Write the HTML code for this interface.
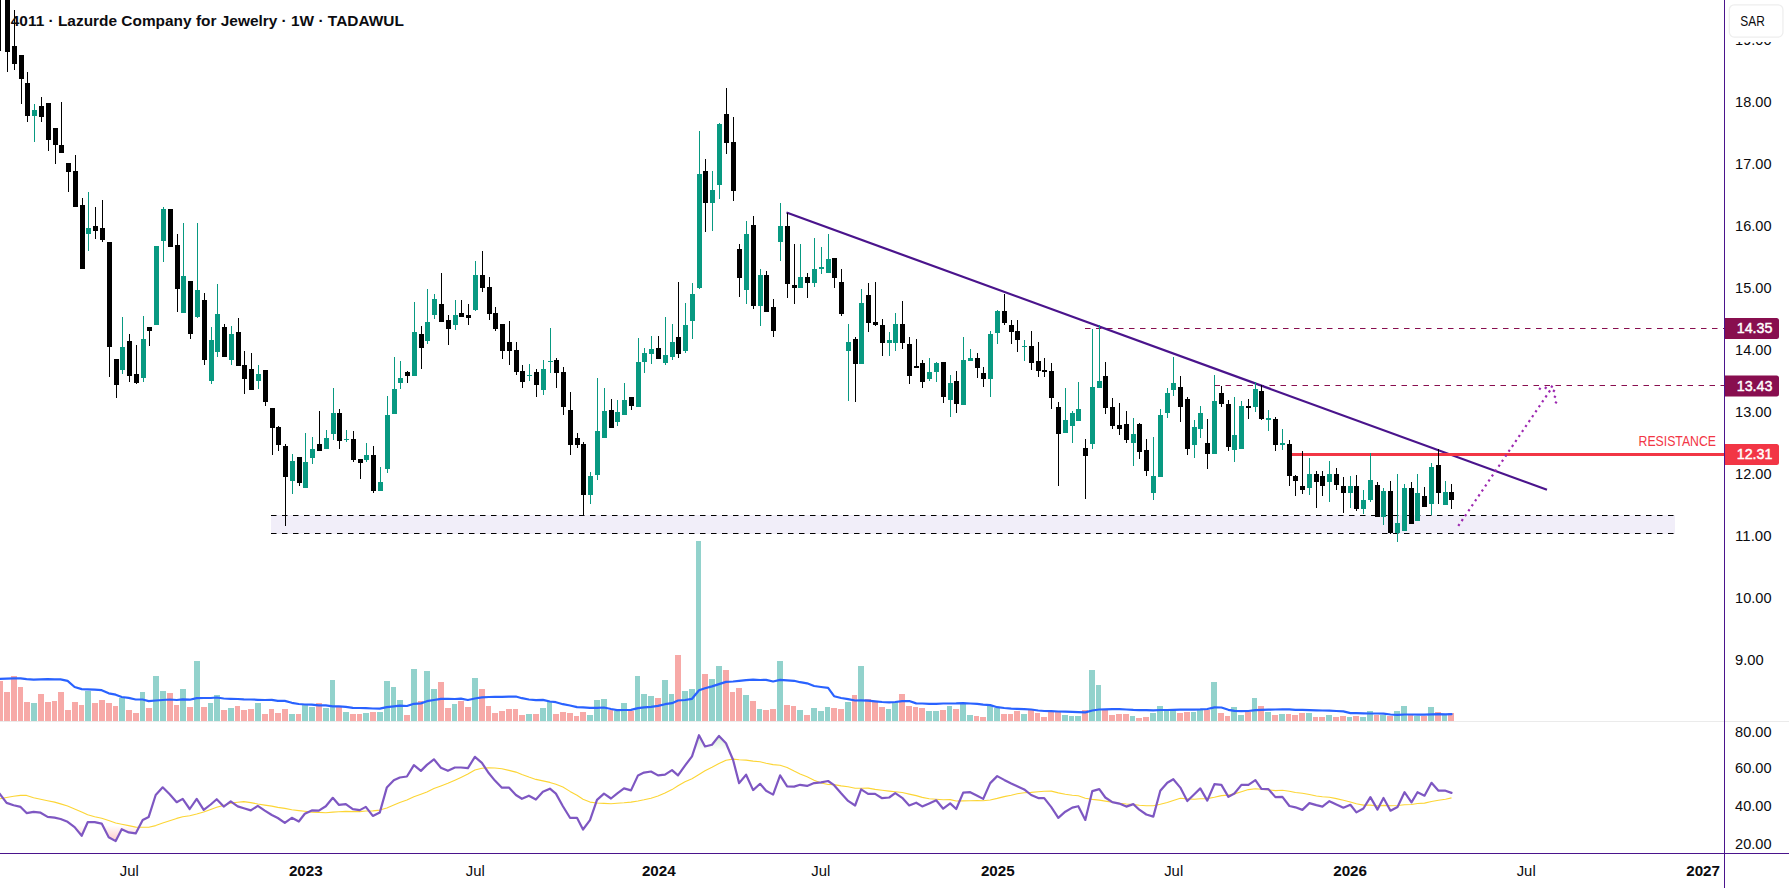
<!DOCTYPE html>
<html lang="en"><head><meta charset="utf-8"><title>4011 Lazurde Company for Jewelry 1W TADAWUL</title>
<style>
html,body{margin:0;padding:0;background:#fff;}
body{width:1789px;height:888px;overflow:hidden;position:relative;}
svg{position:absolute;left:0;top:0;display:block;}
text{font-family:"Liberation Sans",Arial,sans-serif;}
.ax{font-size:14.3px;fill:#0b0b0e;}
.axb{font-size:14.3px;fill:#0b0b0e;font-weight:700;}
.lb{font-size:14.3px;fill:#ffffff;stroke:#ffffff;stroke-width:0.45px;}
</style></head><body>
<svg width="1789" height="888" viewBox="0 0 1789 888">
<defs>
<linearGradient id="gOS" x1="0" y1="825.4" x2="0" y2="853" gradientUnits="userSpaceOnUse"><stop offset="0" stop-color="#ff5252" stop-opacity="0"/><stop offset="1" stop-color="#ff5252" stop-opacity="0.55"/></linearGradient>
<linearGradient id="gOB" x1="0" y1="722" x2="0" y2="750.3" gradientUnits="userSpaceOnUse"><stop offset="0" stop-color="#4caf50" stop-opacity="0.45"/><stop offset="1" stop-color="#4caf50" stop-opacity="0"/></linearGradient>
<clipPath id="cOS"><rect x="0" y="825.4" width="1724" height="28"/></clipPath>
<clipPath id="cOB"><rect x="0" y="722" width="1724" height="28.3"/></clipPath>
<clipPath id="cMain"><rect x="0" y="0" width="1724" height="853"/></clipPath>
</defs>
<rect x="0" y="0" width="1789" height="888" fill="#ffffff"/>
<g shape-rendering="crispEdges">
<path d="M31 703h6V721h-6zM85 691h6V721h-6zM119 698h6V721h-6zM140 692h5V721h-5zM153 676h6V721h-6zM160 691h6V721h-6zM180 689h6V721h-6zM194 661h6V721h-6zM208 703h5V721h-5zM214 695h6V721h-6zM228 708h6V721h-6zM255 703h6V721h-6zM289 714h6V721h-6zM302 705h6V721h-6zM309 707h6V721h-6zM323 708h6V721h-6zM330 680h5V721h-5zM343 712h6V721h-6zM363 713h6V721h-6zM377 712h6V721h-6zM384 681h6V721h-6zM391 687h5V721h-5zM397 700h6V721h-6zM411 669h6V721h-6zM424 671h6V721h-6zM431 689h6V721h-6zM452 704h5V721h-5zM472 678h6V721h-6zM526 714h6V721h-6zM540 708h6V721h-6zM547 702h5V721h-5zM587 715h6V721h-6zM594 700h6V721h-6zM601 699h6V721h-6zM614 711h6V721h-6zM621 703h6V721h-6zM635 676h5V721h-5zM641 694h6V721h-6zM648 696h6V721h-6zM662 680h6V721h-6zM669 694h5V721h-5zM682 691h6V721h-6zM689 689h6V721h-6zM696 541h5V721h-5zM709 679h6V721h-6zM716 666h6V721h-6zM743 695h6V721h-6zM757 709h5V721h-5zM777 661h6V721h-6zM797 710h6V721h-6zM811 708h6V721h-6zM818 711h6V721h-6zM825 707h5V721h-5zM845 702h6V721h-6zM858 666h6V721h-6zM886 709h5V721h-5zM892 702h6V721h-6zM926 711h6V721h-6zM933 711h6V721h-6zM947 706h5V721h-5zM960 703h6V721h-6zM967 715h6V721h-6zM987 706h6V721h-6zM994 708h6V721h-6zM1021 714h6V721h-6zM1062 715h6V721h-6zM1069 716h5V721h-5zM1075 716h6V721h-6zM1089 670h6V721h-6zM1096 685h5V721h-5zM1130 716h5V721h-5zM1150 713h6V721h-6zM1157 706h6V721h-6zM1164 711h5V721h-5zM1170 709h6V721h-6zM1191 712h5V721h-5zM1197 710h6V721h-6zM1211 682h6V721h-6zM1231 707h6V721h-6zM1238 715h6V721h-6zM1252 698h5V721h-5zM1265 712h6V721h-6zM1279 714h6V721h-6zM1306 713h6V721h-6zM1326 715h6V721h-6zM1347 717h5V721h-5zM1360 717h6V721h-6zM1367 711h6V721h-6zM1380 715h6V721h-6zM1394 711h6V721h-6zM1401 706h6V721h-6zM1414 716h6V721h-6zM1428 707h6V721h-6zM1442 715h5V721h-5z" fill="#92d2cc"/>
<path d="M-3 681h6V721h-6zM4 692h6V721h-6zM11 676h6V721h-6zM18 687h5V721h-5zM24 702h6V721h-6zM38 694h6V721h-6zM45 702h6V721h-6zM52 701h5V721h-5zM58 692h6V721h-6zM65 710h6V721h-6zM72 702h6V721h-6zM79 705h5V721h-5zM92 703h6V721h-6zM99 700h6V721h-6zM106 703h6V721h-6zM113 706h5V721h-5zM126 710h6V721h-6zM133 713h6V721h-6zM146 708h6V721h-6zM167 693h6V721h-6zM174 705h5V721h-5zM187 707h6V721h-6zM201 707h6V721h-6zM221 710h6V721h-6zM235 706h5V721h-5zM241 710h6V721h-6zM248 709h6V721h-6zM262 714h6V721h-6zM269 709h5V721h-5zM275 713h6V721h-6zM282 709h6V721h-6zM296 714h5V721h-5zM316 703h6V721h-6zM336 707h6V721h-6zM350 714h6V721h-6zM357 714h5V721h-5zM370 712h6V721h-6zM404 715h6V721h-6zM418 701h5V721h-5zM438 682h6V721h-6zM445 708h6V721h-6zM458 701h6V721h-6zM465 707h6V721h-6zM479 689h6V721h-6zM486 706h5V721h-5zM492 713h6V721h-6zM499 711h6V721h-6zM506 709h6V721h-6zM513 709h5V721h-5zM519 715h6V721h-6zM533 714h6V721h-6zM553 714h6V721h-6zM560 712h6V721h-6zM567 713h6V721h-6zM574 716h5V721h-5zM580 712h6V721h-6zM608 710h5V721h-5zM628 711h6V721h-6zM655 698h6V721h-6zM675 655h6V721h-6zM702 674h6V721h-6zM723 670h6V721h-6zM730 692h5V721h-5zM736 688h6V721h-6zM750 701h6V721h-6zM763 710h6V721h-6zM770 709h6V721h-6zM784 705h6V721h-6zM791 706h5V721h-5zM804 715h6V721h-6zM831 708h6V721h-6zM838 709h6V721h-6zM852 695h5V721h-5zM865 699h6V721h-6zM872 701h6V721h-6zM879 707h6V721h-6zM899 694h6V721h-6zM906 706h6V721h-6zM913 707h5V721h-5zM919 708h6V721h-6zM940 710h6V721h-6zM953 709h6V721h-6zM974 716h5V721h-5zM980 717h6V721h-6zM1001 714h6V721h-6zM1008 714h5V721h-5zM1014 711h6V721h-6zM1028 710h6V721h-6zM1035 713h5V721h-5zM1041 717h6V721h-6zM1048 712h6V721h-6zM1055 712h6V721h-6zM1082 710h6V721h-6zM1102 710h6V721h-6zM1109 715h6V721h-6zM1116 714h6V721h-6zM1123 714h6V721h-6zM1136 718h6V721h-6zM1143 717h6V721h-6zM1177 713h6V721h-6zM1184 712h6V721h-6zM1204 710h6V721h-6zM1218 713h6V721h-6zM1225 716h5V721h-5zM1245 712h6V721h-6zM1258 706h6V721h-6zM1272 715h6V721h-6zM1286 714h5V721h-5zM1292 715h6V721h-6zM1299 713h6V721h-6zM1313 717h5V721h-5zM1319 717h6V721h-6zM1333 717h6V721h-6zM1340 716h6V721h-6zM1353 716h6V721h-6zM1374 715h5V721h-5zM1387 716h6V721h-6zM1408 715h5V721h-5zM1421 716h6V721h-6zM1435 712h6V721h-6zM1448 713h6V721h-6z" fill="#f7a9a7"/>
</g>
<polyline points="-0.4,678.9 6.6,678.6 13.6,678.4 20.6,678.4 26.6,679.2 33.6,679.6 40.6,679.3 47.6,679.2 54.6,679.3 60.6,679.4 67.6,680.9 74.6,687.0 81.7,689.1 87.7,689.4 94.7,689.6 101.7,690.2 108.7,693.3 115.7,694.7 121.7,697.0 128.7,697.9 135.7,699.5 142.7,699.5 148.7,701.1 155.7,700.5 162.7,700.0 169.7,699.5 176.7,700.0 182.7,699.4 189.7,699.7 196.7,698.1 203.7,698.0 210.7,698.0 216.7,697.5 223.7,698.5 230.7,698.8 237.7,699.0 243.8,699.4 250.8,699.5 257.8,699.8 264.8,700.0 271.8,699.8 277.8,700.9 284.8,700.9 291.8,702.8 298.8,704.0 304.8,704.5 311.8,704.6 318.8,705.4 325.8,705.4 332.8,706.4 338.8,706.4 345.8,706.8 352.8,707.8 359.8,708.0 365.8,708.2 372.8,708.5 379.8,708.6 386.8,707.2 393.8,706.4 399.8,705.7 406.9,706.0 413.9,703.8 420.9,703.4 426.9,701.2 433.9,700.0 440.9,698.9 447.9,698.9 454.9,699.0 460.9,698.6 467.9,700.0 474.9,698.5 481.9,697.4 488.9,697.0 494.9,696.9 501.9,696.8 508.9,696.6 515.9,696.5 521.9,698.2 528.9,699.5 535.9,700.2 542.9,699.9 549.9,701.5 555.9,702.2 562.9,704.2 570.0,705.5 577.0,707.1 583.0,707.4 590.0,707.9 597.0,707.9 604.0,707.5 611.0,709.0 617.0,710.1 624.0,710.0 631.0,709.9 638.0,708.1 644.0,707.4 651.0,706.8 658.0,705.9 665.0,704.2 672.0,703.2 678.0,700.5 685.0,700.0 692.0,698.8 699.0,690.2 705.0,688.2 712.0,686.4 719.0,684.1 726.0,681.9 733.1,681.5 739.1,680.9 746.1,680.1 753.1,679.6 760.1,680.0 766.1,679.9 773.1,681.5 780.1,679.9 787.1,680.4 794.1,680.8 800.1,682.2 807.1,683.3 814.1,686.0 821.1,687.0 828.1,687.9 834.1,696.2 841.1,698.0 848.1,699.1 855.1,700.5 861.1,700.4 868.1,700.7 875.1,701.4 882.1,702.0 889.2,702.4 895.2,702.0 902.2,701.2 909.2,701.0 916.2,703.4 922.2,703.5 929.2,703.8 936.2,703.8 943.2,703.5 950.2,703.5 956.2,703.4 963.2,703.1 970.2,703.5 977.2,703.9 983.2,704.6 990.2,705.1 997.2,707.2 1004.2,708.0 1011.2,708.6 1017.2,708.9 1024.2,709.1 1031.2,709.5 1038.2,710.5 1044.2,711.0 1051.3,711.2 1058.3,711.5 1065.3,711.6 1072.3,711.9 1078.3,712.2 1085.3,712.4 1092.3,710.5 1099.3,709.5 1105.3,709.3 1112.3,709.2 1119.3,709.1 1126.3,709.5 1133.3,709.9 1139.3,710.1 1146.3,710.2 1153.3,710.4 1160.3,710.0 1167.3,710.0 1173.3,709.8 1180.3,709.6 1187.3,709.6 1194.3,709.6 1200.3,709.4 1207.3,709.0 1214.4,707.4 1221.4,707.5 1228.4,709.8 1234.4,710.9 1241.4,711.1 1248.4,711.0 1255.4,710.2 1261.4,709.8 1268.4,709.6 1275.4,709.5 1282.4,709.3 1289.4,709.4 1295.4,709.8 1302.4,709.9 1309.4,710.1 1316.4,710.3 1322.4,710.5 1329.4,710.7 1336.4,711.0 1343.4,711.4 1350.4,713.1 1356.4,713.2 1363.4,713.3 1370.4,713.5 1377.5,713.5 1383.5,713.6 1390.5,714.5 1397.5,714.8 1404.5,714.5 1411.5,714.5 1417.5,714.6 1424.5,714.7 1431.5,714.3 1438.5,714.2 1445.5,714.4 1451.5,714.1" fill="none" stroke="#2962ff" stroke-width="2.2" stroke-linejoin="round" stroke-linecap="round"/>
<rect x="271" y="515" width="1404" height="19" fill="#f1eef9"/>
<g stroke="#000000" stroke-width="1" stroke-dasharray="5.5 5.5" fill="none">
<line x1="271" y1="515.5" x2="1675" y2="515.5"/>
<line x1="271" y1="533.5" x2="1675" y2="533.5"/>
</g>
<g stroke="#880e4f" stroke-width="1" stroke-dasharray="5.5 5.5" fill="none">
<line x1="1085" y1="328.5" x2="1724" y2="328.5"/>
<line x1="1214.5" y1="385.5" x2="1724" y2="385.5"/>
</g>
<line x1="786.5" y1="212.5" x2="1547" y2="489.8" stroke="#4a148c" stroke-width="2.2"/>
<rect x="1292" y="453" width="432" height="3" fill="#f23645" shape-rendering="crispEdges"/>
<g stroke="#9c27b0" stroke-width="2.2" fill="none" stroke-dasharray="2.2 3.8">
<line x1="1550.06" y1="390.49" x2="1458.2" y2="526.1" stroke-dasharray="2.2 3.78"/>
</g>
<g fill="#9c27b0">
<rect x="1550.7" y="385.5" width="2.2" height="2.2" transform="rotate(-56 1551.8 386.6)"/>
<rect x="1544.6" y="386.8" width="2.2" height="2.2" transform="rotate(-56 1545.7 387.9)"/>
<rect x="1538.8" y="387.6" width="2.2" height="2.2" transform="rotate(-56 1539.9 388.75)"/>
<rect x="1552.8" y="389.8" width="2.2" height="2.2" transform="rotate(-56 1553.9 390.9)"/>
<rect x="1553.8" y="395.6" width="2.2" height="2.2" transform="rotate(-56 1554.9 396.7)"/>
<rect x="1554.9" y="401.4" width="2.2" height="2.2" transform="rotate(-56 1556.0 402.5)"/>
</g>
<text x="1638.6" y="445.6" font-size="14.3" fill="#f23645" textLength="77.4" lengthAdjust="spacingAndGlyphs">RESISTANCE</text>
<g shape-rendering="crispEdges">
<path d="M0 -5h1V51h-1zM-2 -5h5V-4h-5zM7 -5h1V72h-1zM5 -5h5V52h-5zM14 10h1V70h-1zM12 46h5V64h-5zM21 55h1V104h-1zM19 55h5V79h-5zM27 72h1V122h-1zM25 83h5V116h-5zM41 97h1V122h-1zM39 106h5V117h-5zM48 103h1V151h-1zM46 103h5V140h-5zM55 128h1V164h-1zM53 128h5V145h-5zM61 102h1V153h-1zM59 145h5V153h-5zM68 163h1V192h-1zM66 163h5V172h-5zM75 155h1V207h-1zM73 171h5V207h-5zM82 198h1V269h-1zM80 205h5V269h-5zM95 207h1V239h-1zM93 226h5V231h-5zM102 200h1V242h-1zM100 228h5V240h-5zM109 242h1V377h-1zM107 242h5V347h-5zM116 359h1V398h-1zM114 359h5V385h-5zM129 334h1V382h-1zM127 341h5V376h-5zM136 345h1V384h-1zM134 374h5V383h-5zM149 327h1V346h-1zM147 327h5V331h-5zM170 209h1V247h-1zM168 209h5V247h-5zM177 234h1V312h-1zM175 245h5V289h-5zM190 281h1V339h-1zM188 281h5V334h-5zM204 293h1V365h-1zM202 300h5V360h-5zM224 324h1V357h-1zM222 327h5V357h-5zM238 318h1V366h-1zM236 332h5V366h-5zM244 351h1V394h-1zM242 365h5V379h-5zM251 353h1V390h-1zM249 369h5V390h-5zM265 370h1V406h-1zM263 370h5V402h-5zM272 408h1V455h-1zM270 408h5V428h-5zM278 426h1V451h-1zM276 427h5V445h-5zM285 444h1V526h-1zM283 446h5V477h-5zM299 457h1V486h-1zM297 457h5V483h-5zM319 411h1V451h-1zM317 444h5V451h-5zM339 409h1V449h-1zM337 413h5V441h-5zM353 431h1V462h-1zM351 439h5V460h-5zM360 459h1V479h-1zM358 459h5V463h-5zM373 446h1V493h-1zM371 455h5V491h-5zM407 371h1V383h-1zM405 372h5V376h-5zM421 326h1V369h-1zM419 334h5V348h-5zM441 273h1V322h-1zM439 304h5V322h-5zM448 315h1V345h-1zM446 320h5V329h-5zM461 300h1V317h-1zM459 313h5V317h-5zM468 304h1V325h-1zM466 315h5V318h-5zM482 251h1V292h-1zM480 275h5V288h-5zM489 277h1V320h-1zM487 287h5V314h-5zM495 307h1V331h-1zM493 313h5V329h-5zM502 324h1V359h-1zM500 324h5V351h-5zM509 321h1V365h-1zM507 342h5V351h-5zM516 342h1V375h-1zM514 350h5V372h-5zM522 365h1V388h-1zM520 371h5V382h-5zM536 369h1V397h-1zM534 372h5V385h-5zM556 358h1V388h-1zM554 360h5V373h-5zM563 367h1V415h-1zM561 372h5V407h-5zM570 392h1V455h-1zM568 410h5V445h-5zM577 433h1V448h-1zM575 438h5V445h-5zM583 442h1V515h-1zM581 444h5V495h-5zM611 399h1V428h-1zM609 410h5V428h-5zM631 397h1V410h-1zM629 397h5V406h-5zM658 336h1V359h-1zM656 348h5V359h-5zM678 282h1V358h-1zM676 337h5V354h-5zM705 159h1V232h-1zM703 171h5V203h-5zM726 88h1V154h-1zM724 114h5V143h-5zM733 117h1V201h-1zM731 142h5V191h-5zM739 244h1V297h-1zM737 249h5V278h-5zM753 216h1V309h-1zM751 225h5V306h-5zM766 271h1V312h-1zM764 275h5V312h-5zM773 299h1V337h-1zM771 307h5V331h-5zM787 213h1V298h-1zM785 226h5V284h-5zM794 244h1V304h-1zM792 285h5V288h-5zM807 273h1V298h-1zM805 277h5V283h-5zM834 258h1V288h-1zM832 258h5V278h-5zM841 269h1V316h-1zM839 282h5V314h-5zM855 337h1V402h-1zM853 339h5V364h-5zM868 283h1V332h-1zM866 295h5V323h-5zM875 282h1V326h-1zM873 322h5V325h-5zM882 319h1V356h-1zM880 325h5V343h-5zM902 301h1V349h-1zM900 324h5V343h-5zM909 337h1V384h-1zM907 344h5V376h-5zM916 339h1V368h-1zM914 366h5V368h-5zM922 360h1V388h-1zM920 363h5V382h-5zM943 362h1V403h-1zM941 362h5V397h-5zM956 371h1V413h-1zM954 381h5V404h-5zM977 353h1V378h-1zM975 358h5V368h-5zM983 367h1V387h-1zM981 373h5V379h-5zM1004 294h1V325h-1zM1002 311h5V323h-5zM1011 320h1V344h-1zM1009 325h5V332h-5zM1017 320h1V352h-1zM1015 331h5V340h-5zM1031 331h1V370h-1zM1029 346h5V363h-5zM1038 342h1V377h-1zM1036 361h5V371h-5zM1044 358h1V377h-1zM1042 370h5V372h-5zM1051 363h1V409h-1zM1049 371h5V398h-5zM1058 402h1V486h-1zM1056 407h5V434h-5zM1085 439h1V499h-1zM1083 448h5V456h-5zM1105 362h1V414h-1zM1103 376h5V408h-5zM1112 398h1V429h-1zM1110 407h5V426h-5zM1119 403h1V435h-1zM1117 425h5V429h-5zM1126 411h1V443h-1zM1124 424h5V440h-5zM1139 423h1V459h-1zM1137 424h5V452h-5zM1146 439h1V476h-1zM1144 450h5V471h-5zM1180 376h1V422h-1zM1178 387h5V407h-5zM1187 397h1V455h-1zM1185 399h5V449h-5zM1207 419h1V469h-1zM1205 443h5V454h-5zM1221 386h1V407h-1zM1219 393h5V404h-5zM1228 400h1V451h-1zM1226 404h5V447h-5zM1248 399h1V419h-1zM1246 406h5V408h-5zM1261 385h1V420h-1zM1259 391h5V419h-5zM1275 417h1V451h-1zM1273 419h5V445h-5zM1289 440h1V486h-1zM1287 444h5V476h-5zM1295 475h1V496h-1zM1293 476h5V481h-5zM1302 451h1V494h-1zM1300 486h5V490h-5zM1316 471h1V508h-1zM1314 474h5V482h-5zM1322 471h1V496h-1zM1320 476h5V486h-5zM1336 468h1V490h-1zM1334 474h5V485h-5zM1343 477h1V513h-1zM1341 486h5V493h-5zM1356 475h1V511h-1zM1354 486h5V509h-5zM1377 482h1V517h-1zM1375 485h5V517h-5zM1390 481h1V534h-1zM1388 491h5V533h-5zM1411 482h1V524h-1zM1409 488h5V524h-5zM1424 487h1V507h-1zM1422 496h5V507h-5zM1438 449h1V504h-1zM1436 465h5V493h-5zM1451 484h1V509h-1zM1449 492h5V500h-5z" fill="#000000"/>
<path d="M34 104h1V142h-1zM32 110h5V116h-5zM88 192h1V251h-1zM86 228h5V234h-5zM122 317h1V374h-1zM120 347h5V370h-5zM143 316h1V382h-1zM141 339h5V378h-5zM156 246h1V325h-1zM154 246h5V325h-5zM163 207h1V262h-1zM161 209h5V241h-5zM183 223h1V313h-1zM181 276h5V313h-5zM197 223h1V318h-1zM195 290h5V317h-5zM211 327h1V384h-1zM209 340h5V381h-5zM217 284h1V357h-1zM215 314h5V352h-5zM231 326h1V365h-1zM229 334h5V360h-5zM258 365h1V389h-1zM256 374h5V381h-5zM292 454h1V494h-1zM290 461h5V481h-5zM305 433h1V488h-1zM303 462h5V488h-5zM312 437h1V464h-1zM310 449h5V458h-5zM326 430h1V449h-1zM324 438h5V449h-5zM333 388h1V440h-1zM331 413h5V434h-5zM346 430h1V442h-1zM344 439h5V440h-5zM366 443h1V462h-1zM364 455h5V460h-5zM380 467h1V491h-1zM378 482h5V491h-5zM387 396h1V473h-1zM385 415h5V469h-5zM394 357h1V414h-1zM392 389h5V414h-5zM400 361h1V389h-1zM398 378h5V383h-5zM414 302h1V376h-1zM412 332h5V376h-5zM427 289h1V344h-1zM425 322h5V341h-5zM434 294h1V319h-1zM432 299h5V315h-5zM455 300h1V330h-1zM453 315h5V325h-5zM475 261h1V311h-1zM473 275h5V310h-5zM529 364h1V381h-1zM527 375h5V376h-5zM543 360h1V395h-1zM541 369h5V390h-5zM550 328h1V373h-1zM548 361h5V362h-5zM590 472h1V504h-1zM588 476h5V495h-5zM597 378h1V480h-1zM595 431h5V475h-5zM604 388h1V438h-1zM602 411h5V438h-5zM617 400h1V426h-1zM615 412h5V422h-5zM624 383h1V415h-1zM622 400h5V415h-5zM638 338h1V407h-1zM636 362h5V407h-5zM644 348h1V373h-1zM642 353h5V362h-5zM651 336h1V364h-1zM649 349h5V354h-5zM665 317h1V365h-1zM663 355h5V363h-5zM672 324h1V360h-1zM670 342h5V357h-5zM685 303h1V353h-1zM683 325h5V351h-5zM692 283h1V339h-1zM690 294h5V321h-5zM699 131h1V289h-1zM697 174h5V288h-5zM712 171h1V231h-1zM710 190h5V203h-5zM719 123h1V199h-1zM717 124h5V185h-5zM746 221h1V304h-1zM744 234h5V290h-5zM760 269h1V326h-1zM758 275h5V306h-5zM780 203h1V261h-1zM778 226h5V242h-5zM800 244h1V288h-1zM798 277h5V288h-5zM814 238h1V287h-1zM812 269h5V283h-5zM821 247h1V274h-1zM819 267h5V269h-5zM828 234h1V273h-1zM826 259h5V273h-5zM848 324h1V401h-1zM846 342h5V351h-5zM861 289h1V364h-1zM859 303h5V364h-5zM889 332h1V356h-1zM887 340h5V343h-5zM895 313h1V351h-1zM893 324h5V343h-5zM929 358h1V381h-1zM927 372h5V379h-5zM936 362h1V382h-1zM934 363h5V372h-5zM950 375h1V417h-1zM948 383h5V400h-5zM963 337h1V405h-1zM961 360h5V405h-5zM970 349h1V361h-1zM968 358h5V361h-5zM990 331h1V397h-1zM988 334h5V379h-5zM997 310h1V344h-1zM995 311h5V333h-5zM1024 340h1V361h-1zM1022 346h5V347h-5zM1065 388h1V433h-1zM1063 420h5V433h-5zM1072 411h1V443h-1zM1070 413h5V426h-5zM1078 382h1V421h-1zM1076 409h5V421h-5zM1092 329h1V449h-1zM1090 387h5V444h-5zM1099 325h1V388h-1zM1097 381h5V388h-5zM1133 418h1V466h-1zM1131 434h5V443h-5zM1153 437h1V500h-1zM1151 476h5V493h-5zM1160 409h1V477h-1zM1158 415h5V477h-5zM1167 388h1V418h-1zM1165 393h5V413h-5zM1173 357h1V396h-1zM1171 383h5V390h-5zM1194 420h1V458h-1zM1192 427h5V445h-5zM1200 406h1V438h-1zM1198 413h5V429h-5zM1214 375h1V454h-1zM1212 401h5V454h-5zM1234 397h1V462h-1zM1232 435h5V450h-5zM1241 401h1V449h-1zM1239 406h5V449h-5zM1255 382h1V412h-1zM1253 389h5V407h-5zM1268 410h1V431h-1zM1266 418h5V420h-5zM1282 429h1V450h-1zM1280 443h5V445h-5zM1309 458h1V495h-1zM1307 474h5V488h-5zM1329 461h1V502h-1zM1327 474h5V482h-5zM1350 476h1V508h-1zM1348 486h5V493h-5zM1363 490h1V514h-1zM1361 500h5V509h-5zM1370 453h1V502h-1zM1368 480h5V500h-5zM1383 488h1V525h-1zM1381 491h5V517h-5zM1397 474h1V542h-1zM1395 523h5V533h-5zM1404 484h1V531h-1zM1402 488h5V531h-5zM1417 474h1V521h-1zM1415 493h5V521h-5zM1431 463h1V515h-1zM1429 467h5V504h-5zM1445 481h1V505h-1zM1443 492h5V505h-5z" fill="#089981"/>
</g>
<text x="10.8" y="25.6" font-size="14.3" font-weight="700" fill="#0c0c10" textLength="393" lengthAdjust="spacingAndGlyphs">4011 · Lazurde Company for Jewelry · 1W · TADAWUL</text>
<path d="M-0.4 793.6 L6.6 802.9 L13.6 805.2 L20.6 806.9 L26.6 813.1 L33.6 811.8 L40.6 812.7 L47.6 816.9 L54.6 817.6 L60.6 819.0 L67.6 821.8 L74.6 827.1 L81.7 835.8 L87.7 822.2 L94.7 822.2 L101.7 823.6 L108.7 837.3 L115.7 841.1 L121.7 829.2 L128.7 832.4 L135.7 833.4 L142.7 819.9 L148.7 816.9 L155.7 795.0 L162.7 787.3 L169.7 794.3 L176.7 802.2 L182.7 798.9 L189.7 809.0 L196.7 798.8 L203.7 809.9 L210.7 804.5 L216.7 799.2 L223.7 806.6 L230.7 801.3 L237.7 806.4 L243.8 808.3 L250.8 810.4 L257.8 805.9 L264.8 810.6 L271.8 815.0 L277.8 818.0 L284.8 822.9 L291.8 817.8 L298.8 821.5 L304.8 813.8 L311.8 810.4 L318.8 810.6 L325.8 806.2 L332.8 797.8 L338.8 804.8 L345.8 804.1 L352.8 809.2 L359.8 810.1 L365.8 806.9 L372.8 815.9 L379.8 812.4 L386.8 787.6 L393.8 780.3 L399.8 777.5 L406.9 776.5 L413.9 765.2 L420.9 770.9 L426.9 764.9 L433.9 759.3 L440.9 767.7 L447.9 770.8 L454.9 767.5 L460.9 767.5 L467.9 768.1 L474.9 756.8 L481.9 762.8 L488.9 773.3 L494.9 780.6 L501.9 787.7 L508.9 787.6 L515.9 795.0 L521.9 798.8 L528.9 795.7 L535.9 799.5 L542.9 791.8 L549.9 788.7 L555.9 793.6 L562.9 806.2 L570.0 817.8 L577.0 817.8 L583.0 829.5 L590.0 820.1 L597.0 799.9 L604.0 793.6 L611.0 798.5 L617.0 793.6 L624.0 788.4 L631.0 790.4 L638.0 775.4 L644.0 772.6 L651.0 771.5 L658.0 775.4 L665.0 774.7 L672.0 770.1 L678.0 775.4 L685.0 765.6 L692.0 756.3 L699.0 735.2 L705.0 746.5 L712.0 744.7 L719.0 735.9 L726.0 743.3 L733.1 760.0 L739.1 783.1 L746.1 774.7 L753.1 790.1 L760.1 783.8 L766.1 790.8 L773.1 794.6 L780.1 775.4 L787.1 786.3 L794.1 786.6 L800.1 784.8 L807.1 785.9 L814.1 783.1 L821.1 782.4 L828.1 781.0 L834.1 785.2 L841.1 793.3 L848.1 800.9 L855.1 805.5 L861.1 789.4 L868.1 793.9 L875.1 793.9 L882.1 798.2 L889.2 797.5 L895.2 793.2 L902.2 797.8 L909.2 805.5 L916.2 802.7 L922.2 806.4 L929.2 803.4 L936.2 800.3 L943.2 808.7 L950.2 803.4 L956.2 809.0 L963.2 792.6 L970.2 792.2 L977.2 795.7 L983.2 798.9 L990.2 783.1 L997.2 776.1 L1004.2 779.9 L1011.2 783.5 L1017.2 786.3 L1024.2 789.4 L1031.2 795.0 L1038.2 798.1 L1044.2 798.1 L1051.3 807.1 L1058.3 817.8 L1065.3 811.7 L1072.3 807.6 L1078.3 806.2 L1085.3 819.9 L1092.3 791.1 L1099.3 789.1 L1105.3 797.5 L1112.3 802.2 L1119.3 803.6 L1126.3 806.6 L1133.3 804.1 L1139.3 809.7 L1146.3 814.5 L1153.3 816.6 L1160.3 790.8 L1167.3 782.7 L1173.3 779.2 L1180.3 787.6 L1187.3 801.0 L1194.3 794.3 L1200.3 788.4 L1207.3 800.6 L1214.4 784.2 L1221.4 784.9 L1228.4 796.9 L1234.4 793.5 L1241.4 784.9 L1248.4 784.9 L1255.4 780.1 L1261.4 788.9 L1268.4 789.1 L1275.4 797.1 L1282.4 796.9 L1289.4 806.0 L1295.4 807.3 L1302.4 809.9 L1309.4 803.1 L1316.4 805.1 L1322.4 806.6 L1329.4 801.2 L1336.4 804.6 L1343.4 807.7 L1350.4 804.8 L1356.4 812.4 L1363.4 808.5 L1370.4 797.1 L1377.5 809.6 L1383.5 798.0 L1390.5 810.7 L1397.5 807.0 L1404.5 792.2 L1411.5 802.4 L1417.5 792.2 L1424.5 795.7 L1431.5 782.8 L1438.5 790.7 L1445.5 790.7 L1451.5 792.9 L1451.5 825.4 L-0.4 825.4 Z" fill="url(#gOS)" clip-path="url(#cOS)"/>
<path d="M-0.4 793.6 L6.6 802.9 L13.6 805.2 L20.6 806.9 L26.6 813.1 L33.6 811.8 L40.6 812.7 L47.6 816.9 L54.6 817.6 L60.6 819.0 L67.6 821.8 L74.6 827.1 L81.7 835.8 L87.7 822.2 L94.7 822.2 L101.7 823.6 L108.7 837.3 L115.7 841.1 L121.7 829.2 L128.7 832.4 L135.7 833.4 L142.7 819.9 L148.7 816.9 L155.7 795.0 L162.7 787.3 L169.7 794.3 L176.7 802.2 L182.7 798.9 L189.7 809.0 L196.7 798.8 L203.7 809.9 L210.7 804.5 L216.7 799.2 L223.7 806.6 L230.7 801.3 L237.7 806.4 L243.8 808.3 L250.8 810.4 L257.8 805.9 L264.8 810.6 L271.8 815.0 L277.8 818.0 L284.8 822.9 L291.8 817.8 L298.8 821.5 L304.8 813.8 L311.8 810.4 L318.8 810.6 L325.8 806.2 L332.8 797.8 L338.8 804.8 L345.8 804.1 L352.8 809.2 L359.8 810.1 L365.8 806.9 L372.8 815.9 L379.8 812.4 L386.8 787.6 L393.8 780.3 L399.8 777.5 L406.9 776.5 L413.9 765.2 L420.9 770.9 L426.9 764.9 L433.9 759.3 L440.9 767.7 L447.9 770.8 L454.9 767.5 L460.9 767.5 L467.9 768.1 L474.9 756.8 L481.9 762.8 L488.9 773.3 L494.9 780.6 L501.9 787.7 L508.9 787.6 L515.9 795.0 L521.9 798.8 L528.9 795.7 L535.9 799.5 L542.9 791.8 L549.9 788.7 L555.9 793.6 L562.9 806.2 L570.0 817.8 L577.0 817.8 L583.0 829.5 L590.0 820.1 L597.0 799.9 L604.0 793.6 L611.0 798.5 L617.0 793.6 L624.0 788.4 L631.0 790.4 L638.0 775.4 L644.0 772.6 L651.0 771.5 L658.0 775.4 L665.0 774.7 L672.0 770.1 L678.0 775.4 L685.0 765.6 L692.0 756.3 L699.0 735.2 L705.0 746.5 L712.0 744.7 L719.0 735.9 L726.0 743.3 L733.1 760.0 L739.1 783.1 L746.1 774.7 L753.1 790.1 L760.1 783.8 L766.1 790.8 L773.1 794.6 L780.1 775.4 L787.1 786.3 L794.1 786.6 L800.1 784.8 L807.1 785.9 L814.1 783.1 L821.1 782.4 L828.1 781.0 L834.1 785.2 L841.1 793.3 L848.1 800.9 L855.1 805.5 L861.1 789.4 L868.1 793.9 L875.1 793.9 L882.1 798.2 L889.2 797.5 L895.2 793.2 L902.2 797.8 L909.2 805.5 L916.2 802.7 L922.2 806.4 L929.2 803.4 L936.2 800.3 L943.2 808.7 L950.2 803.4 L956.2 809.0 L963.2 792.6 L970.2 792.2 L977.2 795.7 L983.2 798.9 L990.2 783.1 L997.2 776.1 L1004.2 779.9 L1011.2 783.5 L1017.2 786.3 L1024.2 789.4 L1031.2 795.0 L1038.2 798.1 L1044.2 798.1 L1051.3 807.1 L1058.3 817.8 L1065.3 811.7 L1072.3 807.6 L1078.3 806.2 L1085.3 819.9 L1092.3 791.1 L1099.3 789.1 L1105.3 797.5 L1112.3 802.2 L1119.3 803.6 L1126.3 806.6 L1133.3 804.1 L1139.3 809.7 L1146.3 814.5 L1153.3 816.6 L1160.3 790.8 L1167.3 782.7 L1173.3 779.2 L1180.3 787.6 L1187.3 801.0 L1194.3 794.3 L1200.3 788.4 L1207.3 800.6 L1214.4 784.2 L1221.4 784.9 L1228.4 796.9 L1234.4 793.5 L1241.4 784.9 L1248.4 784.9 L1255.4 780.1 L1261.4 788.9 L1268.4 789.1 L1275.4 797.1 L1282.4 796.9 L1289.4 806.0 L1295.4 807.3 L1302.4 809.9 L1309.4 803.1 L1316.4 805.1 L1322.4 806.6 L1329.4 801.2 L1336.4 804.6 L1343.4 807.7 L1350.4 804.8 L1356.4 812.4 L1363.4 808.5 L1370.4 797.1 L1377.5 809.6 L1383.5 798.0 L1390.5 810.7 L1397.5 807.0 L1404.5 792.2 L1411.5 802.4 L1417.5 792.2 L1424.5 795.7 L1431.5 782.8 L1438.5 790.7 L1445.5 790.7 L1451.5 792.9 L1451.5 750.3 L-0.4 750.3 Z" fill="url(#gOB)" clip-path="url(#cOB)"/>
<polyline points="-0.4,798.8 6.6,797.5 13.6,796.3 20.6,795.4 26.6,795.4 33.6,797.8 40.6,799.3 47.6,800.7 54.6,802.1 60.6,803.9 67.6,806.0 74.6,808.9 81.7,812.0 87.7,814.8 94.7,816.8 101.7,818.3 108.7,820.6 115.7,823.0 121.7,824.2 128.7,825.6 135.7,827.1 142.7,827.3 148.7,827.3 155.7,825.6 162.7,823.1 169.7,820.8 176.7,818.4 182.7,816.7 189.7,815.8 196.7,814.0 203.7,812.0 210.7,809.4 216.7,807.3 223.7,805.4 230.7,803.1 237.7,802.2 243.8,801.6 250.8,802.6 257.8,804.0 264.8,805.1 271.8,806.1 277.8,807.4 284.8,808.4 291.8,809.8 298.8,810.6 304.8,811.3 311.8,812.1 318.8,812.4 325.8,812.7 332.8,812.1 338.8,811.8 345.8,811.4 352.8,811.6 359.8,811.6 365.8,811.0 372.8,810.9 379.8,810.1 386.8,807.9 393.8,805.0 399.8,802.4 406.9,800.0 413.9,796.8 420.9,794.2 426.9,791.9 433.9,788.6 440.9,786.0 447.9,783.3 454.9,780.2 460.9,777.4 467.9,774.0 474.9,770.0 481.9,768.3 488.9,767.8 494.9,768.0 501.9,768.8 508.9,770.4 515.9,772.1 521.9,774.5 528.9,777.1 535.9,779.4 542.9,780.9 549.9,782.4 555.9,784.3 562.9,787.0 570.0,791.4 577.0,795.3 583.0,799.3 590.0,802.1 597.0,803.0 604.0,803.4 611.0,803.7 617.0,803.3 624.0,802.8 631.0,802.1 638.0,801.0 644.0,799.8 651.0,798.2 658.0,796.0 665.0,793.0 672.0,789.6 678.0,785.7 685.0,781.8 692.0,778.7 699.0,774.5 705.0,770.8 712.0,767.3 719.0,763.6 726.0,760.2 733.1,759.1 739.1,759.8 746.1,760.1 753.1,761.1 760.1,761.8 766.1,763.2 773.1,764.6 780.1,765.3 787.1,767.5 794.1,771.1 800.1,773.9 807.1,776.8 814.1,780.2 821.1,783.0 828.1,784.5 834.1,784.6 841.1,785.9 848.1,786.7 855.1,788.3 861.1,788.2 868.1,788.1 875.1,789.4 882.1,790.3 889.2,791.1 895.2,791.7 902.2,792.5 909.2,794.1 916.2,795.6 922.2,797.4 929.2,798.7 936.2,799.2 943.2,799.7 950.2,799.6 956.2,801.0 963.2,800.9 970.2,800.8 977.2,800.6 983.2,800.7 990.2,800.0 997.2,798.4 1004.2,796.6 1011.2,795.2 1017.2,793.8 1024.2,792.8 1031.2,792.4 1038.2,791.7 1044.2,791.3 1051.3,791.1 1058.3,792.9 1065.3,794.3 1072.3,795.2 1078.3,795.7 1085.3,798.3 1092.3,799.4 1099.3,800.1 1105.3,801.1 1112.3,802.2 1119.3,803.2 1126.3,804.0 1133.3,804.5 1139.3,805.3 1146.3,805.8 1153.3,805.7 1160.3,804.2 1167.3,802.5 1173.3,800.5 1180.3,798.2 1187.3,798.9 1194.3,799.3 1200.3,798.7 1207.3,798.6 1214.4,797.2 1221.4,795.6 1228.4,795.1 1234.4,793.9 1241.4,791.8 1248.4,789.6 1255.4,788.8 1261.4,789.2 1268.4,789.9 1275.4,790.6 1282.4,790.3 1289.4,791.2 1295.4,792.5 1302.4,793.2 1309.4,794.5 1316.4,796.0 1322.4,796.7 1329.4,797.2 1336.4,798.6 1343.4,800.3 1350.4,802.0 1356.4,803.7 1363.4,805.1 1370.4,805.1 1377.5,806.0 1383.5,805.4 1390.5,805.7 1397.5,805.5 1404.5,804.7 1411.5,804.5 1417.5,803.5 1424.5,803.1 1431.5,801.5 1438.5,800.3 1445.5,799.3 1451.5,797.9" fill="none" stroke="#fcd535" stroke-width="1.1" stroke-linejoin="round"/>
<polyline points="-0.4,793.6 6.6,802.9 13.6,805.2 20.6,806.9 26.6,813.1 33.6,811.8 40.6,812.7 47.6,816.9 54.6,817.6 60.6,819.0 67.6,821.8 74.6,827.1 81.7,835.8 87.7,822.2 94.7,822.2 101.7,823.6 108.7,837.3 115.7,841.1 121.7,829.2 128.7,832.4 135.7,833.4 142.7,819.9 148.7,816.9 155.7,795.0 162.7,787.3 169.7,794.3 176.7,802.2 182.7,798.9 189.7,809.0 196.7,798.8 203.7,809.9 210.7,804.5 216.7,799.2 223.7,806.6 230.7,801.3 237.7,806.4 243.8,808.3 250.8,810.4 257.8,805.9 264.8,810.6 271.8,815.0 277.8,818.0 284.8,822.9 291.8,817.8 298.8,821.5 304.8,813.8 311.8,810.4 318.8,810.6 325.8,806.2 332.8,797.8 338.8,804.8 345.8,804.1 352.8,809.2 359.8,810.1 365.8,806.9 372.8,815.9 379.8,812.4 386.8,787.6 393.8,780.3 399.8,777.5 406.9,776.5 413.9,765.2 420.9,770.9 426.9,764.9 433.9,759.3 440.9,767.7 447.9,770.8 454.9,767.5 460.9,767.5 467.9,768.1 474.9,756.8 481.9,762.8 488.9,773.3 494.9,780.6 501.9,787.7 508.9,787.6 515.9,795.0 521.9,798.8 528.9,795.7 535.9,799.5 542.9,791.8 549.9,788.7 555.9,793.6 562.9,806.2 570.0,817.8 577.0,817.8 583.0,829.5 590.0,820.1 597.0,799.9 604.0,793.6 611.0,798.5 617.0,793.6 624.0,788.4 631.0,790.4 638.0,775.4 644.0,772.6 651.0,771.5 658.0,775.4 665.0,774.7 672.0,770.1 678.0,775.4 685.0,765.6 692.0,756.3 699.0,735.2 705.0,746.5 712.0,744.7 719.0,735.9 726.0,743.3 733.1,760.0 739.1,783.1 746.1,774.7 753.1,790.1 760.1,783.8 766.1,790.8 773.1,794.6 780.1,775.4 787.1,786.3 794.1,786.6 800.1,784.8 807.1,785.9 814.1,783.1 821.1,782.4 828.1,781.0 834.1,785.2 841.1,793.3 848.1,800.9 855.1,805.5 861.1,789.4 868.1,793.9 875.1,793.9 882.1,798.2 889.2,797.5 895.2,793.2 902.2,797.8 909.2,805.5 916.2,802.7 922.2,806.4 929.2,803.4 936.2,800.3 943.2,808.7 950.2,803.4 956.2,809.0 963.2,792.6 970.2,792.2 977.2,795.7 983.2,798.9 990.2,783.1 997.2,776.1 1004.2,779.9 1011.2,783.5 1017.2,786.3 1024.2,789.4 1031.2,795.0 1038.2,798.1 1044.2,798.1 1051.3,807.1 1058.3,817.8 1065.3,811.7 1072.3,807.6 1078.3,806.2 1085.3,819.9 1092.3,791.1 1099.3,789.1 1105.3,797.5 1112.3,802.2 1119.3,803.6 1126.3,806.6 1133.3,804.1 1139.3,809.7 1146.3,814.5 1153.3,816.6 1160.3,790.8 1167.3,782.7 1173.3,779.2 1180.3,787.6 1187.3,801.0 1194.3,794.3 1200.3,788.4 1207.3,800.6 1214.4,784.2 1221.4,784.9 1228.4,796.9 1234.4,793.5 1241.4,784.9 1248.4,784.9 1255.4,780.1 1261.4,788.9 1268.4,789.1 1275.4,797.1 1282.4,796.9 1289.4,806.0 1295.4,807.3 1302.4,809.9 1309.4,803.1 1316.4,805.1 1322.4,806.6 1329.4,801.2 1336.4,804.6 1343.4,807.7 1350.4,804.8 1356.4,812.4 1363.4,808.5 1370.4,797.1 1377.5,809.6 1383.5,798.0 1390.5,810.7 1397.5,807.0 1404.5,792.2 1411.5,802.4 1417.5,792.2 1424.5,795.7 1431.5,782.8 1438.5,790.7 1445.5,790.7 1451.5,792.9" fill="none" stroke="#7e57c2" stroke-width="2.2" stroke-linejoin="round" stroke-linecap="round"/>
<rect x="1725" y="0" width="64" height="888" fill="#ffffff"/>
<rect x="0" y="854" width="1789" height="34" fill="#ffffff"/>
<rect x="0" y="721" width="1789" height="1" fill="#ebebeb" shape-rendering="crispEdges"/>
<rect x="1724" y="0" width="1" height="888" fill="#4a148c" shape-rendering="crispEdges"/>
<rect x="0" y="853" width="1789" height="1" fill="#4a148c" shape-rendering="crispEdges"/>
<text class="ax" x="1735.1" y="44.6" textLength="36.4" lengthAdjust="spacingAndGlyphs">19.00</text>
<text class="ax" x="1735.1" y="106.6" textLength="36.4" lengthAdjust="spacingAndGlyphs">18.00</text>
<text class="ax" x="1735.1" y="168.6" textLength="36.4" lengthAdjust="spacingAndGlyphs">17.00</text>
<text class="ax" x="1735.1" y="230.6" textLength="36.4" lengthAdjust="spacingAndGlyphs">16.00</text>
<text class="ax" x="1735.1" y="292.6" textLength="36.4" lengthAdjust="spacingAndGlyphs">15.00</text>
<text class="ax" x="1735.1" y="354.6" textLength="36.4" lengthAdjust="spacingAndGlyphs">14.00</text>
<text class="ax" x="1735.1" y="416.6" textLength="36.4" lengthAdjust="spacingAndGlyphs">13.00</text>
<text class="ax" x="1735.1" y="478.6" textLength="36.4" lengthAdjust="spacingAndGlyphs">12.00</text>
<text class="ax" x="1735.1" y="540.6" textLength="36.4" lengthAdjust="spacingAndGlyphs">11.00</text>
<text class="ax" x="1735.1" y="602.6" textLength="36.4" lengthAdjust="spacingAndGlyphs">10.00</text>
<text class="ax" x="1735.1" y="664.6" textLength="28.6" lengthAdjust="spacingAndGlyphs">9.00</text>
<text class="ax" x="1735.1" y="736.6" textLength="36.4" lengthAdjust="spacingAndGlyphs">80.00</text>
<text class="ax" x="1735.1" y="773.0" textLength="36.4" lengthAdjust="spacingAndGlyphs">60.00</text>
<text class="ax" x="1735.1" y="811.2" textLength="36.4" lengthAdjust="spacingAndGlyphs">40.00</text>
<text class="ax" x="1735.1" y="849.2" textLength="36.4" lengthAdjust="spacingAndGlyphs">20.00</text>
<rect x="1725" y="853" width="64" height="1" fill="#4a148c" shape-rendering="crispEdges"/>
<rect x="1725" y="854" width="64" height="34" fill="#ffffff"/>
<path d="M1725 318.0h51.5a2.5 2.5 0 0 1 2.5 2.5v16a2.5 2.5 0 0 1 -2.5 2.5h-51.5z" fill="#880e4f"/>
<text class="lb" x="1754.6" y="333.1" text-anchor="middle">14.35</text>
<path d="M1725 375.5h51.5a2.5 2.5 0 0 1 2.5 2.5v16a2.5 2.5 0 0 1 -2.5 2.5h-51.5z" fill="#880e4f"/>
<text class="lb" x="1754.6" y="390.6" text-anchor="middle">13.43</text>
<path d="M1725 444.0h51.5a2.5 2.5 0 0 1 2.5 2.5v16a2.5 2.5 0 0 1 -2.5 2.5h-51.5z" fill="#f23645"/>
<text class="lb" x="1754.6" y="459.1" text-anchor="middle">12.31</text>
<rect x="1725" y="0" width="64" height="42" fill="#ffffff"/>
<rect x="1729.35" y="4.85" width="53.6" height="32.2" rx="4.8" ry="4.8" fill="#ffffff" stroke="#eeeeee" stroke-width="1.3"/>
<text class="ax" x="1740.3" y="26" style="font-size:15px" textLength="24.5" lengthAdjust="spacingAndGlyphs">SAR</text>
<text class="ax" x="119.8" y="875.8" textLength="19" lengthAdjust="spacingAndGlyphs">Jul</text>
<text class="axb" x="288.9" y="875.8" textLength="33.8" lengthAdjust="spacingAndGlyphs">2023</text>
<text class="ax" x="465.8" y="875.8" textLength="19" lengthAdjust="spacingAndGlyphs">Jul</text>
<text class="axb" x="641.9" y="875.8" textLength="33.8" lengthAdjust="spacingAndGlyphs">2024</text>
<text class="ax" x="811.3" y="875.8" textLength="19" lengthAdjust="spacingAndGlyphs">Jul</text>
<text class="axb" x="980.9" y="875.8" textLength="33.8" lengthAdjust="spacingAndGlyphs">2025</text>
<text class="ax" x="1164.2" y="875.8" textLength="19" lengthAdjust="spacingAndGlyphs">Jul</text>
<text class="axb" x="1333.2" y="875.8" textLength="33.8" lengthAdjust="spacingAndGlyphs">2026</text>
<text class="ax" x="1516.7" y="875.8" textLength="19" lengthAdjust="spacingAndGlyphs">Jul</text>
<text class="axb" x="1686.2" y="875.8" textLength="33.8" lengthAdjust="spacingAndGlyphs">2027</text>
</svg></body></html>
